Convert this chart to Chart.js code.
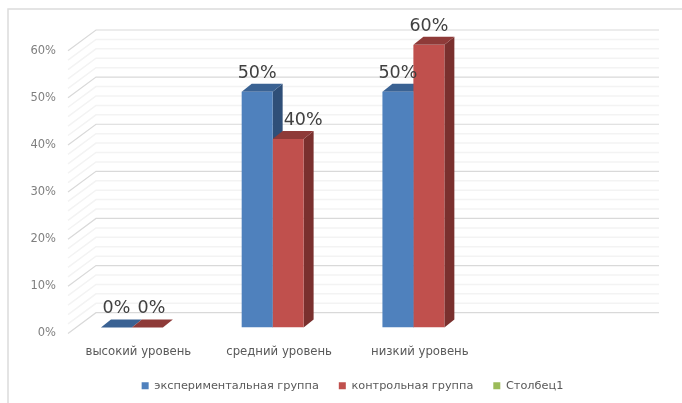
<!DOCTYPE html>
<html>
<head>
<meta charset="utf-8">
<script src="https://cdn.jsdelivr.net/npm/chart.js@4"></script>
<style>
  html, body { margin: 0; background: #fff; }
  #wrap { width: 682px; height: 403px; }
</style>
</head>
<body>
<div id="wrap"><canvas id="chart" width="682" height="403"></canvas></div>
<script>
// data
const categories = ['высокий уровень', 'средний уровень', 'низкий уровень', ''];
const seriesNames = ['экспериментальная группа', 'контрольная группа', 'Столбец1'];
const experimental = [0, 50, 50, null];
const control = [0, 40, 60, null];
const column1 = [null, null, null, null];
const yTicks = [0, 10, 20, 30, 40, 50, 60];

// colours: front, top, side
const blue = ['#4f81bd', '#3a6293', '#2f4f78'];
const red = ['#c0504d', '#8e3a38', '#7a302e'];
const green = ['#9bbb59', '#7a9445', '#63783a'];

const FONT = '"DejaVu Sans", sans-serif';

// fake 3d: wall depth and where the bars stand inside it
const wall = { dx: 28, dy: -20.7 };
const barPlane = { dx: 9, dy: -6 };
const barDepth = { dx: 10, dy: -8 };

const poly = (ctx, pts, fill) => {
  ctx.fillStyle = fill;
  ctx.beginPath();
  pts.forEach((p, i) => (i ? ctx.lineTo(p[0], p[1]) : ctx.moveTo(p[0], p[1])));
  ctx.closePath();
  ctx.fill();
};

const walls3d = {
  id: 'walls3d',
  beforeDraw(chart) {
    const { ctx, chartArea: a, scales: { y } } = chart;
    ctx.save();
    // outer frame
    ctx.strokeStyle = '#dcdcdc';
    ctx.lineWidth = 1.5;
    ctx.beginPath();
    ctx.moveTo(8, 403);
    ctx.lineTo(8, 9);
    ctx.lineTo(682, 9);
    ctx.stroke();
    // minor lines first, then the major ones
    for (const major of [false, true]) {
      ctx.strokeStyle = major ? '#d9d9d9' : '#f3f3f3';
      ctx.lineWidth = major ? 1.2 : 1.5;
      for (let v = 0; v <= 60; v += 2) {
        if ((v % 10 === 0) !== major) continue;
        const py = y.getPixelForValue(v);
        ctx.beginPath();
        ctx.moveTo(a.left, py);
        ctx.lineTo(a.left + wall.dx, py + wall.dy);
        ctx.lineTo(a.right + wall.dx, py + wall.dy);
        ctx.stroke();
      }
    }
    ctx.restore();
  },
  beforeDatasetsDraw(chart) {
    const { ctx } = chart;
    ctx.save();
    ctx.translate(barPlane.dx, barPlane.dy);
    const { dx, dy } = barDepth;
    // side and top faces, the front faces come from chart.js on top of these
    chart.data.datasets.forEach((ds, i) => {
      const cols = [blue, red, green][i];
      chart.getDatasetMeta(i).data.forEach((bar, j) => {
        if (ds.data[j] === null) return;
        const left = bar.x - bar.width / 2;
        const right = bar.x + bar.width / 2;
        const top = bar.y;
        const base = bar.base;
        poly(ctx, [[right, top], [right + dx, top + dy], [right + dx, base + dy], [right, base]], cols[2]);
        poly(ctx, [[left, top], [left + dx, top + dy], [right + dx, top + dy], [right, top]], cols[1]);
      });
    });
  },
  afterDatasetsDraw(chart) {
    const { ctx } = chart;
    ctx.restore();
    ctx.save();
    ctx.font = '17.5px ' + FONT;
    ctx.fillStyle = '#404040';
    ctx.textAlign = 'center';
    ctx.textBaseline = 'alphabetic';
    chart.data.datasets.forEach((ds, i) => {
      chart.getDatasetMeta(i).data.forEach((bar, j) => {
        if (ds.data[j] === null) return;
        // labels nudged by hand in the original
        let shift = 0;
        if (i === 1 && j === 1) shift = 15;
        if (i === 1 && j === 0) shift = 4;
        ctx.fillText(ds.data[j] + '%', bar.x + barPlane.dx + shift, bar.y + barPlane.dy - 14);
      });
    });
    ctx.restore();
  },
  afterLayout(chart) {
    // legend sits right of centre in the original
    const lg = chart.legend;
    const h = lg.bottom - lg.top;
    lg.left += 37;
    lg.right += 37;
    lg.top = 360;
    lg.bottom = 360 + h;
  },
};

new Chart(document.getElementById('chart'), {
  type: 'bar',
  data: {
    labels: categories,
    datasets: [
      { label: seriesNames[0], data: experimental, backgroundColor: blue[0] },
      { label: seriesNames[1], data: control, backgroundColor: red[0] },
      { label: seriesNames[2], data: column1, backgroundColor: green[0] },
    ],
  },
  plugins: [walls3d],
  options: {
    responsive: false,
    animation: false,
    datasets: { bar: { categoryPercentage: 0.66, barPercentage: 1 } },
    layout: { padding: { top: 50.7, right: 51, left: 0, bottom: 0 } },
    plugins: {
      tooltip: { enabled: false },
      legend: {
        position: 'bottom',
        labels: {
          boxWidth: 7,
          boxHeight: 7,
          padding: 20,
          color: '#595959',
          font: { family: FONT, size: 11.3 },
        },
      },
    },
    scales: {
      x: {
        grid: { display: false },
        border: { display: false },
        afterFit: s => { s.height = 28.3; },
        ticks: { padding: 4, color: '#595959', font: { family: FONT, size: 11.7 }, maxRotation: 0 },
      },
      y: {
        min: 0,
        max: 60,
        afterFit: s => { s.width = 68; },
        afterBuildTicks: s => { s.ticks = yTicks.map(v => ({ value: v })); },
        grid: { display: false },
        border: { display: false },
        ticks: { padding: 4, color: '#7f7f7f', font: { family: FONT, size: 11.5 }, callback: v => v + '%' },
      },
    },
  },
});
</script>
</body>
</html>
